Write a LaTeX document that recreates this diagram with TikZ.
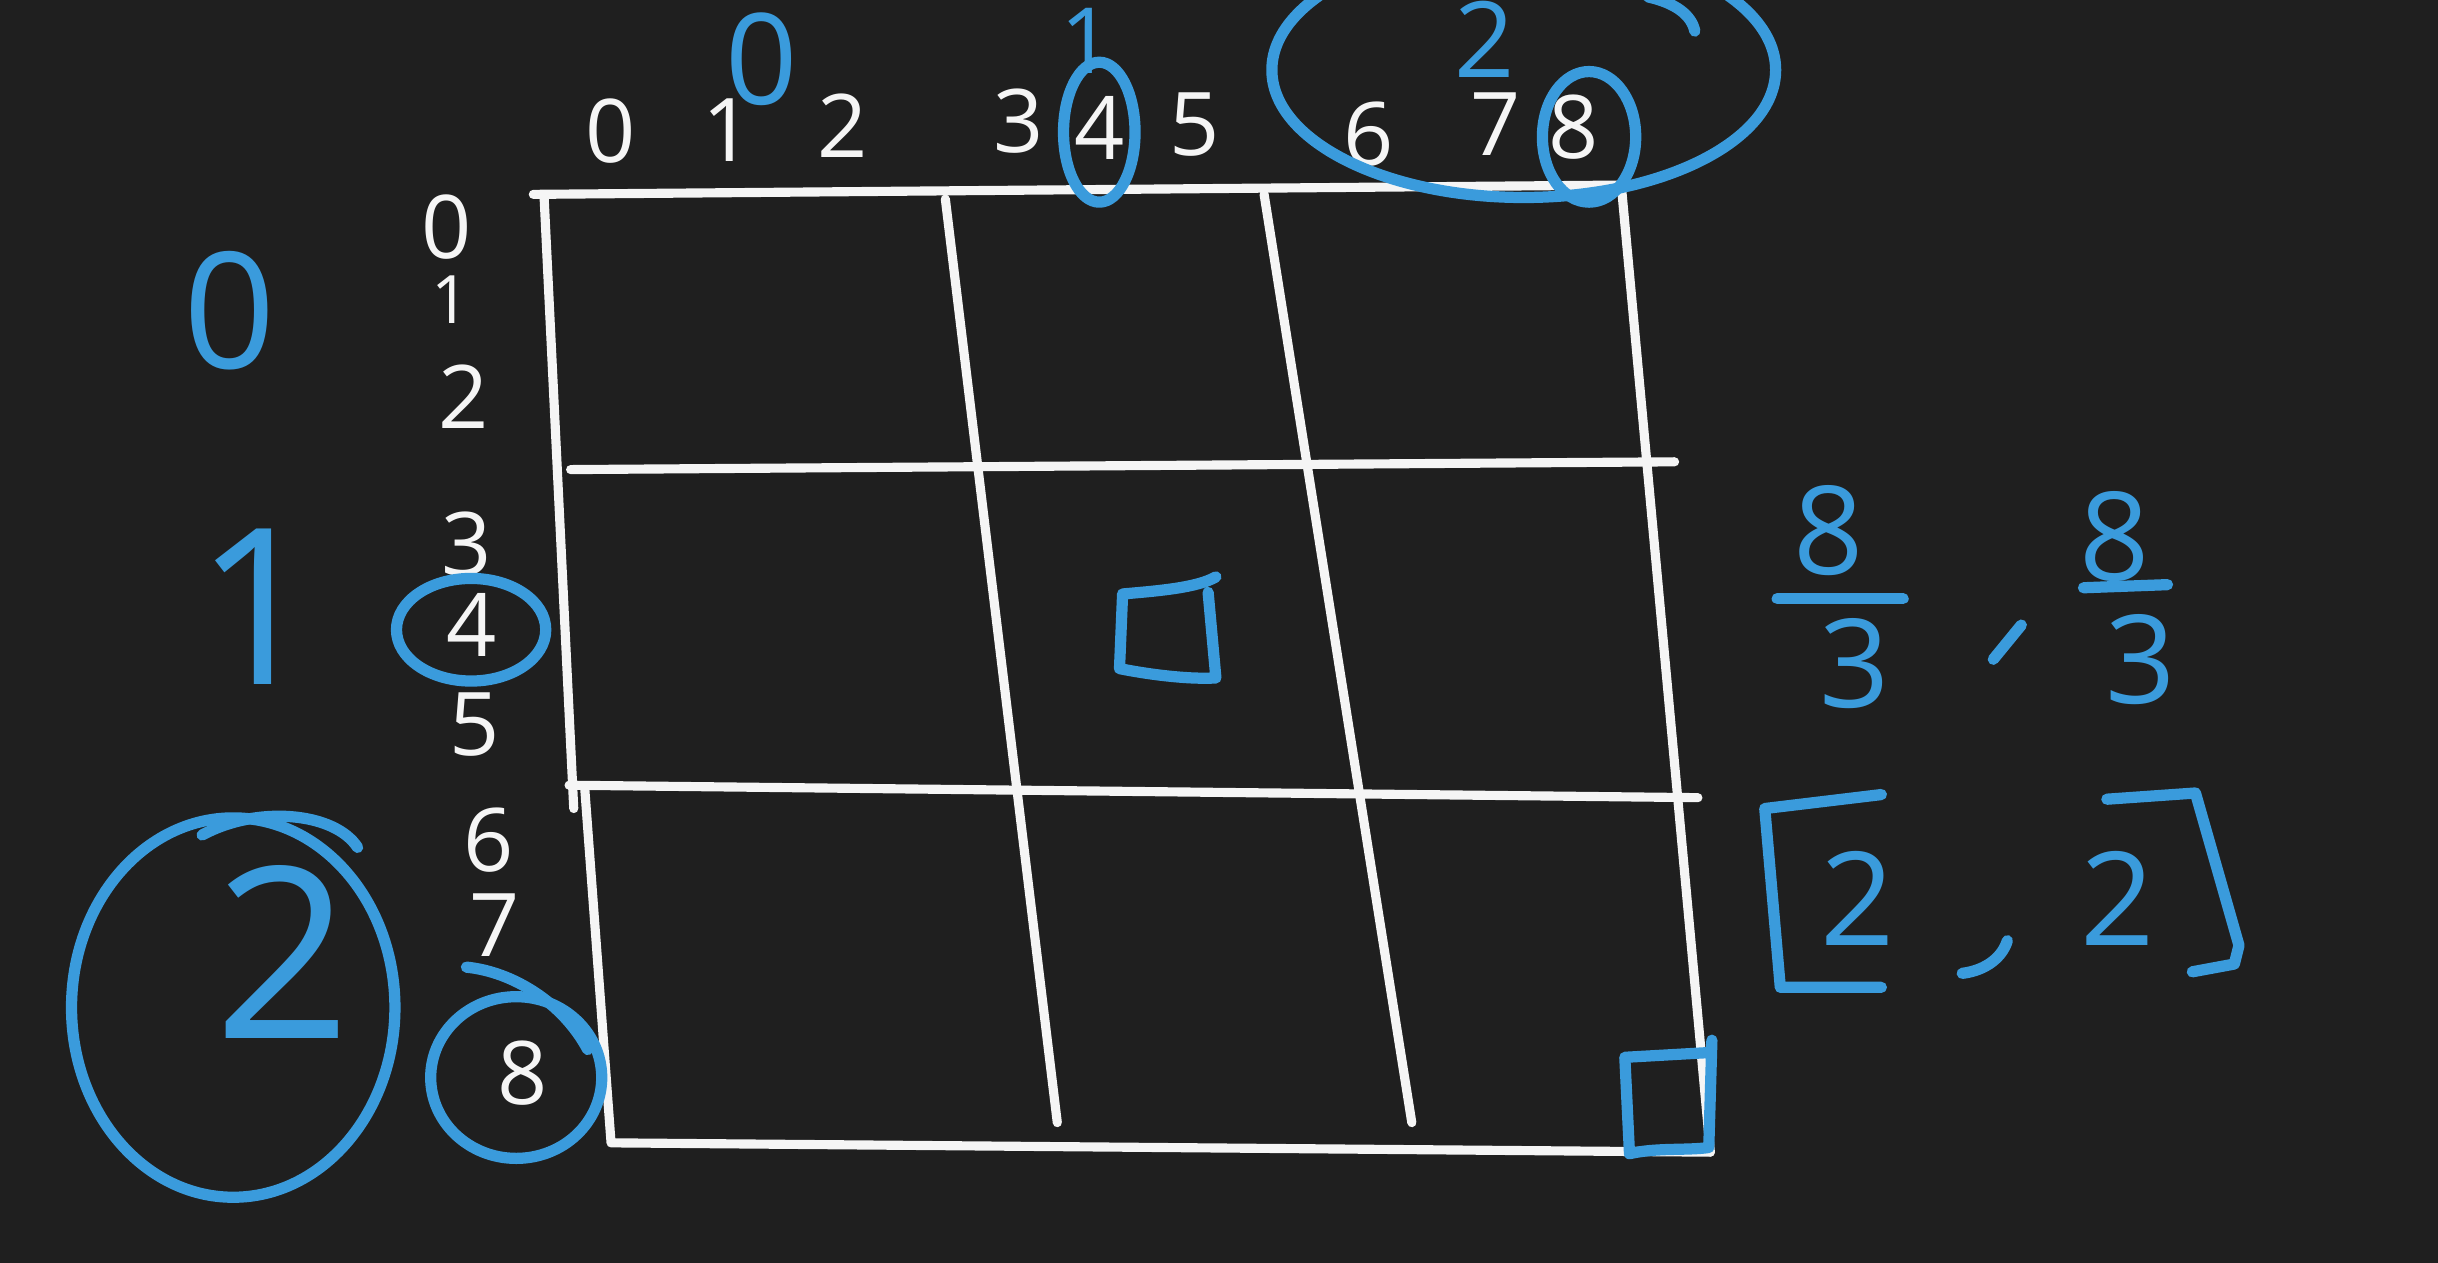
\documentclass[tikz,border=0pt]{standalone}
\usepackage{fontspec}
\setmainfont{Open Sans}
\definecolor{bg}{RGB}{31,31,31}
\definecolor{ink}{RGB}{245,245,245}
\definecolor{pen}{RGB}{58,155,220}
\newcommand{\fsz}[1]{\fontsize{#1}{#1}\selectfont}
\begin{document}
\begin{tikzpicture}[x=0.015548cm,y=-0.015548cm,
  gridline/.style={draw=ink,line width=2.6pt,line cap=round,line join=round},
  bl/.style={draw=pen,line width=3.2pt,line cap=round,line join=round},
  wd/.style={text=ink,inner sep=0pt,font=\fsz{25}},
  bd/.style={text=pen,inner sep=0pt}]
\fill[bg] (0,0) rectangle (1568,812);
\useasboundingbox (0,0) rectangle (1568,812);
% grid
\draw[gridline] (343,125) -- (1045,119);
\draw[gridline] (350,128) -- (369,520);
\draw[gridline] (376,506) -- (393,735) -- (1100,741);
\draw[gridline] (608,128) -- (680,722);
\draw[gridline] (813,125) -- (908,722);
\draw[gridline] (1043,122) -- (1100,741);
\draw[gridline] (367,302) -- (1077,297);
\draw[gridline] (366,505) -- (1092,513);
% top labels
\node[wd] (t0) at (393,84) {0};
\node[wd] (t1) at (468,84) {1};
\node[wd] (t2) at (542,81) {2};
\node[wd] (t3) at (655,78) {3};
\node[wd] (t4) at (707,82) {4};
\node[wd] (t5) at (768,80) {5};
\node[wd] (t6) at (880,86) {6};
\node[wd] (t7) at (962,80) {7};
\node[wd] (t8) at (1012,82) {8};
% left labels
\node[wd] (l0) at (287,146) {0};
\node[wd,font=\fsz{19}] (l1) at (290,193) {1};
\node[wd] (l2) at (298,255) {2};
\node[wd] (l3) at (300,350) {3};
\node[wd] (l4) at (303,402) {4};
\node[wd] (l5) at (305,466) {5};
\node[wd] (l6) at (314,540) {6};
\node[wd] (l7) at (318,595) {7};
\node[wd] (l8) at (336,690) {8};
% blue left
\node[bd,font=\fsz{46}] (b0) at (148,200) {0};
\node[bd,font=\fsz{62}] (b1) at (166,390) {1};
\node[bd,font=\fsz{68}] (b2) at (182,612) {2};
\draw[bl] (150,648) ellipse [x radius=104, y radius=122];
\draw[bl] (130,537) .. controls (165,518) and (215,522) .. (230,545);
\draw[bl] (332,693) ellipse [x radius=55, y radius=52];
\draw[bl] (300,622) .. controls (330,625) and (362,645) .. (378,675);
\draw[bl] (303,405) ellipse [x radius=48, y radius=33];
% blue top
\node[bd,font=\fsz{36}] (c0) at (490,38) {0};
\node[bd,font=\fsz{26}] (c1) at (699,26) {1};
\node[bd,font=\fsz{30}] (c2) at (955,25) {2};
\draw[bl] (707,85) ellipse [x radius=23, y radius=45];
\draw[bl] (980,45) ellipse [x radius=162, y radius=82];
\draw[bl] (1060,-2) .. controls (1078,2) and (1088,10) .. (1090,20);
\draw[bl] (1022,88) ellipse [x radius=30, y radius=42];
% squares
\draw[bl] (782,371) .. controls (770,378) and (745,380) .. (722,382) -- (720,430) .. controls (740,434) and (765,437) .. (782,436) -- (777,381);
\draw[bl] (1098,677) -- (1045,680) -- (1048,742) .. controls (1065,738) and (1085,740) .. (1099,738) -- (1101,669);
% fractions
\node[bd,font=\fsz{35}] (f1n) at (1176,341) {8};
\node[bd,font=\fsz{35}] (f1d) at (1193,427) {3};
\draw[bl] (1143,385) -- (1224,385);
\draw[bl] (1282,424) -- (1300,402);
\node[bd,font=\fsz{35}] (f2n) at (1360,345) {8};
\node[bd,font=\fsz{35}] (f2d) at (1377,424) {3};
\draw[bl] (1340,378) -- (1394,376);
% [2, 2]
\draw[bl] (1210,511) -- (1135,520) -- (1145,635) -- (1210,635);
\node[bd,font=\fsz{37}] (v1) at (1195,578) {2};
\draw[bl] (1262,626) .. controls (1278,624) and (1288,615) .. (1291,605);
\node[bd,font=\fsz{37}] (v2) at (1362,578) {2};
\draw[bl] (1355,514) -- (1412,510) -- (1440,608) -- (1437,620) -- (1410,625);
\end{tikzpicture}
\end{document}
